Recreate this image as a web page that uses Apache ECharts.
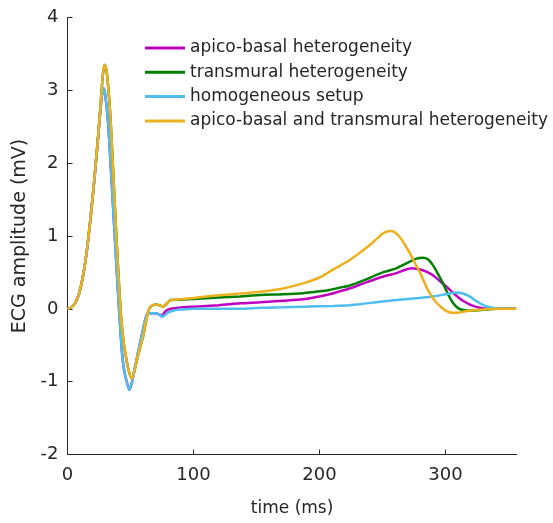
<!DOCTYPE html>
<html>
<head>
<meta charset="utf-8">
<script src="https://cdn.jsdelivr.net/npm/echarts@6/dist/echarts.min.js"></script>
<style>html,body{margin:0;padding:0;background:#fff;}#c{width:553px;height:523px;}</style>
</head>
<body>
<div id="c"></div>
<script>
// Shared QRS complex (transmural / apico-basal+transmural)
const qrsHiT = [0, 3, 6, 9, 12, 15, 18, 21, 24, 26, 28, 29.5, 31, 33, 34.5, 36.5, 38.5, 40.5, 42.5, 44.5, 46, 48.3, 51, 53, 56, 60, 62, 64, 66, 70, 73, 76, 79, 82];
const qrsHiV = [0, 0.02, 0.08, 0.2, 0.42, 0.75, 1.2, 1.72, 2.3, 2.75, 3.2, 3.35, 3.27, 2.9, 2.5, 1.8, 1.1, 0.45, -0.1, -0.45, -0.62, -0.83, -0.96, -0.86, -0.64, -0.38, -0.2, -0.04, 0.03, 0.06, 0.05, 0.03, 0.08, 0.12];
// Shared QRS complex (homogeneous / apico-basal)
const qrsLoT = [0, 3, 6, 9, 12, 15, 18, 21, 24, 26, 27.5, 28.7, 30, 32, 34, 36, 38, 40, 42, 43.5, 45, 47, 49, 51, 53, 56, 59, 61, 63, 65.5, 70, 73];
const qrsLoV = [0, 0.02, 0.08, 0.2, 0.42, 0.75, 1.2, 1.72, 2.3, 2.7, 2.95, 3.03, 2.93, 2.6, 2.05, 1.45, 0.85, 0.25, -0.3, -0.65, -0.85, -1.0, -1.11, -1.02, -0.85, -0.6, -0.36, -0.2, -0.08, -0.06, -0.06, -0.08];

// ST segment + T wave per setup
const apicoT = [75, 78, 82, 90, 100, 120, 137, 153, 171, 187, 200, 208, 216, 224, 235, 243, 252, 261, 267, 273, 277, 282, 286, 290, 295, 301, 306, 311.5, 317, 322, 327, 333, 345, 356];
const apicoV = [-0.09, -0.03, 0.0, 0.02, 0.03, 0.05, 0.075, 0.09, 0.11, 0.13, 0.17, 0.2, 0.24, 0.28, 0.35, 0.4, 0.45, 0.49, 0.53, 0.556, 0.55, 0.53, 0.5, 0.46, 0.39, 0.3, 0.22, 0.14, 0.08, 0.04, 0.015, 0.0, 0.0, 0.0];

const transT = [90, 100, 120, 137, 153, 171, 187, 200, 208, 216, 224, 235, 243, 252, 261, 266, 272, 277, 282, 286, 290, 294, 298, 302, 306, 310, 314, 320, 326, 333, 340, 356];
const transV = [0.125, 0.135, 0.155, 0.17, 0.19, 0.2, 0.215, 0.24, 0.26, 0.29, 0.32, 0.39, 0.45, 0.51, 0.556, 0.6, 0.65, 0.69, 0.7, 0.68, 0.6, 0.48, 0.35, 0.2, 0.08, 0.01, -0.015, -0.025, -0.02, -0.01, 0.0, 0.0];

const homoT = [75, 77, 80, 85, 90, 100, 137, 153, 171, 187, 211, 224, 237, 250, 263, 277, 290, 300, 306, 309, 313, 317, 321, 325, 330, 336, 343, 356];
const homoV = [-0.11, -0.09, -0.05, -0.02, -0.01, 0.0, 0.0, 0.015, 0.022, 0.03, 0.04, 0.05, 0.075, 0.1, 0.125, 0.145, 0.17, 0.2, 0.22, 0.225, 0.215, 0.19, 0.15, 0.1, 0.05, 0.02, 0.005, 0.0];

const bothT = [90, 100, 120, 137, 153, 171, 187, 200, 208, 216, 224, 232, 240, 246, 250.6, 256, 259, 263.5, 267, 271.8, 276, 280, 286, 292, 298, 302, 306, 311, 317, 325, 335, 345, 356];
const bothV = [0.13, 0.15, 0.185, 0.21, 0.235, 0.28, 0.35, 0.43, 0.51, 0.59, 0.67, 0.77, 0.876, 0.97, 1.04, 1.07, 1.06, 0.99, 0.9, 0.76, 0.62, 0.49, 0.26, 0.1, 0.0, -0.04, -0.055, -0.05, -0.03, -0.015, -0.005, 0.0, 0.0];

const seriesNames = ['apico-basal heterogeneity', 'transmural heterogeneity', 'homogeneous setup', 'apico-basal and transmural heterogeneity'];
const seriesColors = ['#BF00BF', '#008000', '#4DBEEE', '#EDB120'];
const xTicks = [0, 100, 200, 300];
const yTicks = [-2, -1, 0, 1, 2, 3, 4];

function zip(ts, vs) { return ts.map((t, i) => [t, vs[i]]); }
const dataSets = [
  zip(qrsLoT, qrsLoV).concat(zip(apicoT, apicoV)),
  zip(qrsHiT, qrsHiV).concat(zip(transT, transV)),
  zip(qrsLoT, qrsLoV).concat(zip(homoT, homoV)),
  zip(qrsHiT, qrsHiV).concat(zip(bothT, bothV))
];

const txt = '#262626';
const font = 'DejaVu Sans, sans-serif';
const chart = echarts.init(document.getElementById('c'), null, { renderer: 'canvas' });
chart.setOption({
  animation: false,
  backgroundColor: '#fff',
  grid: { left: 67.5, right: 36.3, top: 17.5, bottom: 68.5, containLabel: false },
  legend: {
    orient: 'vertical', left: 145, top: 39, padding: 0,
    itemWidth: 40, itemHeight: 3, itemGap: 6.3,
    icon: 'rect',
    textStyle: { fontSize: 17, color: txt, fontFamily: font, lineHeight: 18, padding: [0, 0, 0, 0] },
    data: seriesNames
  },
  xAxis: {
    type: 'value', min: 0, max: 356.5, interval: 100,
    name: 'time (ms)', nameLocation: 'middle', nameGap: 46,
    nameTextStyle: { fontSize: 17, color: txt, fontFamily: font },
    axisLine: { onZero: false, lineStyle: { color: txt, width: 1 } },
    axisTick: { inside: true, length: 5, lineStyle: { color: txt } },
    axisLabel: { fontSize: 18, color: txt, fontFamily: font, margin: 12, showMaxLabel: false,
      formatter: v => xTicks.includes(v) ? String(v) : '' },
    splitLine: { show: false }
  },
  yAxis: {
    type: 'value', min: -2, max: 4, interval: 1,
    name: 'ECG amplitude (mV)', nameLocation: 'middle', nameGap: 33,
    nameTextStyle: { fontSize: 19, color: txt, fontFamily: font },
    axisLine: { show: true, onZero: false, lineStyle: { color: txt, width: 1 } },
    axisTick: { show: true, inside: true, length: 5, lineStyle: { color: txt } },
    axisLabel: { fontSize: 18, color: txt, fontFamily: font, margin: 9,
      formatter: v => yTicks.includes(v) ? String(v) : '' },
    splitLine: { show: false }
  },
  series: dataSets.map((d, i) => ({
    name: seriesNames[i], type: 'line', data: d,
    showSymbol: false, smooth: 0.25,
    lineStyle: { color: seriesColors[i], width: 2.5 },
    itemStyle: { color: seriesColors[i] },
    z: 2 + i
  }))
});
</script>
</body>
</html>
